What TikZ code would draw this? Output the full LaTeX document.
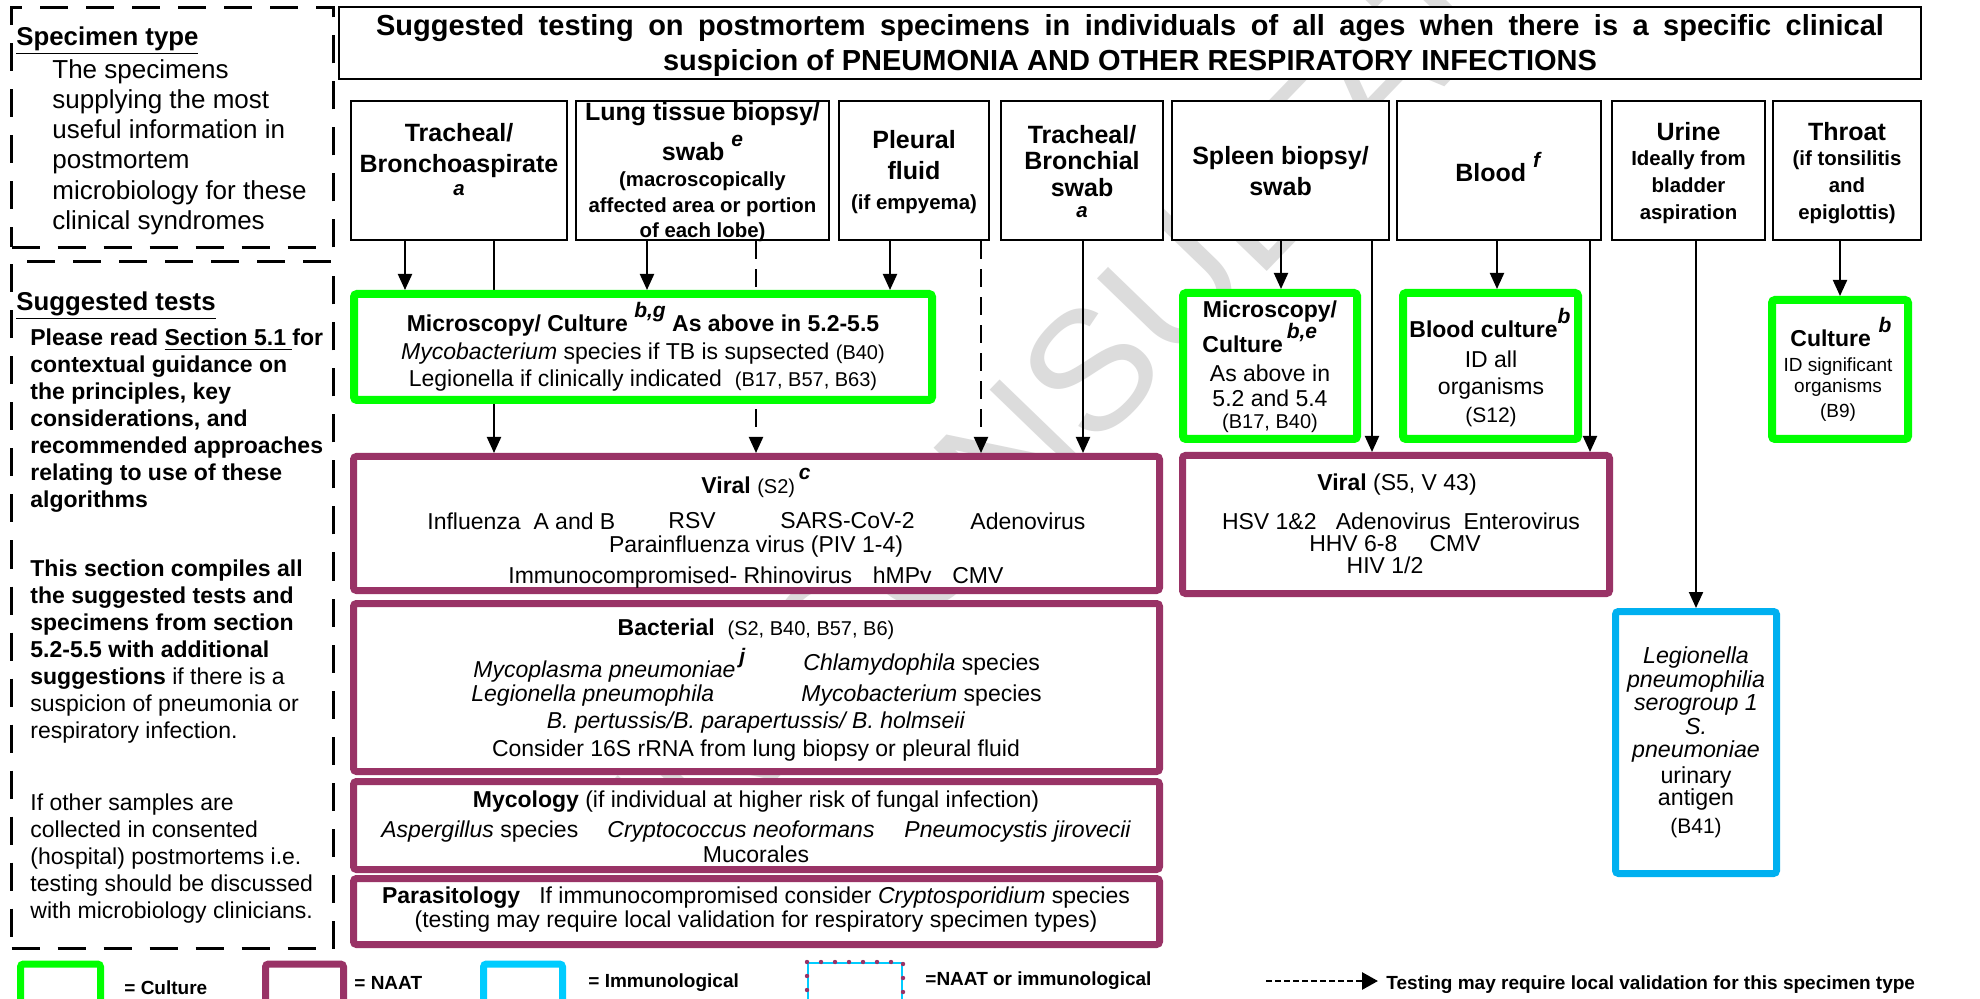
\documentclass[tikz,border=0pt]{standalone}
\usepackage{fontspec}
\setmainfont{Liberation Sans}
\usetikzlibrary{arrows.meta}

\definecolor{culturegreen}{RGB}{0,255,0}
\definecolor{naatpurple}{RGB}{153,51,102}
\definecolor{immunoblue}{RGB}{0,176,240}
\definecolor{keyblue}{RGB}{0,204,255}
\definecolor{markgray}{RGB}{220,220,220}

\newcommand\TitleFont{\fontsize{14.5}{17.5}\selectfont\bfseries}
\newcommand\SpecFont{\fontsize{12.5}{15.5}\selectfont\bfseries}
\newcommand\SubFont{\fontsize{10.2}{12.7}\selectfont\bfseries}
\newcommand\TestFont{\fontsize{11.5}{13.5}\selectfont}
\newcommand\RefFont{\fontsize{10}{12}\selectfont}
\newcommand\SideFont{\fontsize{13}{15.1}\selectfont}
\newcommand\NoteFont{\fontsize{11.5}{13.5}\selectfont}
\newcommand\HeadFont{\fontsize{12.9}{15}\selectfont\bfseries}
\newcommand\KeyFont{\fontsize{9.5}{11}\selectfont\bfseries}
\newcommand\SupMark[1]{\raisebox{7pt}{\fontsize{10.5}{12}\selectfont\bfseries\itshape #1}}

\tikzset{
  specbox/.style={draw=black, line width=1.3pt, fill=white, inner sep=0pt},
  culturebox/.style={draw=culturegreen, line width=4pt, fill=white, rounded corners=1.5pt, inner sep=0pt},
  naatbox/.style={draw=naatpurple, line width=3.5pt, fill=white, rounded corners=1.5pt, inner sep=0pt},
  immunobox/.style={draw=immunoblue, line width=3.5pt, fill=white, rounded corners=1.5pt, inner sep=0pt},
  sidebox/.style={draw=black, line width=1.5pt, dash pattern=on 14pt off 9pt, inner sep=0pt},
  txt/.style={inner sep=0pt, align=center, yshift=-1.5pt},
  ltxt/.style={inner sep=0pt, align=left, anchor=west, yshift=-1.5pt},
  link/.style={line width=1pt, -{Triangle[length=8pt,width=7pt]}},
  dashlink/.style={link, dash pattern=on 9pt off 5pt},
  watermark/.style={text=markgray, inner sep=0pt, font=\fontsize{85}{90}\selectfont},
}

\begin{document}
\begin{tikzpicture}[x=0.5pt,y=-0.5pt]
\useasboundingbox (0,0) rectangle (1980,999);
\clip (0,0) rectangle (1980,999);
\fill[white] (0,0) rectangle (1980,999);

% faint diagonal watermark behind everything
\node[watermark, rotate=46] (wm) at (1163,295) {IN CONSULTATION};

% ---------- side panels ----------
\node[sidebox, minimum width=161pt, minimum height=120pt] (side1) at (172.5,127.5) {};
\node[ltxt, font=\HeadFont] (side1-h) at (16,38) {\underline{Specimen type}};
\node[ltxt, font=\SideFont] (side1-t) at (52,144) {The specimens\\supplying the most\\useful information in\\postmortem\\microbiology for these\\clinical syndromes};

\node[sidebox, minimum width=161pt, minimum height=343.5pt] (side2) at (172.5,605) {};
\node[ltxt, font=\HeadFont] (side2-h) at (16,303) {\underline{Suggested tests}};
\node[ltxt, font=\NoteFont\bfseries] (side2-a) at (30,418) {Please read \underline{Section 5.1 }for\\contextual guidance on\\the principles, key\\considerations, and\\recommended approaches\\relating to use of these\\algorithms};
\node[ltxt, font=\NoteFont] (side2-b) at (30,649) {\textbf{This section compiles all}\\\textbf{the suggested tests and}\\\textbf{specimens from section}\\\textbf{5.2-5.5 with additional}\\\textbf{suggestions} if there is a\\suspicion of pneumonia or\\respiratory infection.};
\node[ltxt, font=\NoteFont] (side2-c) at (30,855.5) {If other samples are\\collected in consented\\(hospital) postmortems i.e.\\testing should be discussed\\with microbiology clinicians.};

% ---------- title ----------
\node[specbox, minimum width=791pt, minimum height=36pt] (title) at (1130,43) {};
\node[txt, font=\TitleFont] (title-t) at (1130,43) {\makebox[754pt][s]{Suggested testing on postmortem specimens in individuals of all ages when there is a specific clinical}\\suspicion of PNEUMONIA AND OTHER RESPIRATORY INFECTIONS};

% ---------- specimen boxes ----------
\node[specbox, minimum width=108pt, minimum height=69.5pt] (tb) at (459,170.5) {};
\node[specbox, minimum width=126.5pt, minimum height=69.5pt] (lung) at (702.5,170.5) {};
\node[specbox, minimum width=75pt, minimum height=69.5pt] (pleural) at (914,170.5) {};
\node[specbox, minimum width=81pt, minimum height=69.5pt] (tbswab) at (1082,170.5) {};
\node[specbox, minimum width=108.5pt, minimum height=69.5pt] (spleen) at (1280.5,170.5) {};
\node[specbox, minimum width=102pt, minimum height=69.5pt] (blood) at (1499,170.5) {};
\node[specbox, minimum width=76.5pt, minimum height=69.5pt] (urine) at (1688.5,170.5) {};
\node[specbox, minimum width=74pt, minimum height=69.5pt] (throat) at (1847,170.5) {};

\node[txt, font=\SpecFont, text depth=0pt] (tb-t) at (459,145) {Tracheal/\\Bronchoaspirate};
\node[txt, font=\SubFont\itshape] (tb-a) at (459,187) {a};
\node[txt, font=\SpecFont] (lung-t) at (702.5,111) {Lung tissue biopsy/};
\node[txt, font=\SpecFont] (lung-s) at (702.5,145) {swab \SupMark{e}};
\node[txt, font=\SubFont] (lung-n) at (702.5,204) {(macroscopically\\affected area or portion\\of each lobe)};
\node[txt, font=\SpecFont, text depth=0pt] (pleural-t) at (914,152) {Pleural\\fluid};
\node[txt, font=\SubFont] (pleural-n) at (914,201) {(if empyema)};
\node[txt, font=\fontsize{12.5}{13.2}\selectfont\bfseries] (tbswab-t) at (1082,158) {Tracheal/\\Bronchial\\swab};
\node[txt, font=\SubFont\itshape] (tbswab-a) at (1082,209) {a};
\node[txt, font=\SpecFont, text depth=0pt] (spleen-t) at (1280.5,168) {Spleen biopsy/\\swab};
\node[txt, font=\SpecFont, anchor=west] (blood-t) at (1455,164) {Blood \SupMark{f}};
\node[txt, font=\SpecFont] (urine-t) at (1688.5,129) {Urine};
\node[txt, font=\fontsize{10.2}{13.4}\selectfont\bfseries] (urine-n) at (1688.5,184) {Ideally from\\bladder\\aspiration};
\node[txt, font=\SpecFont] (throat-t) at (1847,129) {Throat};
\node[txt, font=\fontsize{10.2}{13.4}\selectfont\bfseries] (throat-n) at (1847,184) {(if tonsilitis\\and\\epiglottis)};

% ---------- NAAT boxes ----------
\node[naatbox, minimum width=403pt, minimum height=67pt] (viral) at (756.5,523.5) {};
\node[naatbox, minimum width=403pt, minimum height=84pt] (bact) at (756.5,687.5) {};
\node[naatbox, minimum width=403pt, minimum height=44pt] (myco) at (756.5,825.5) {};
\node[naatbox, minimum width=403pt, minimum height=33pt] (para) at (756.5,911.5) {};
\node[naatbox, minimum width=213.5pt, minimum height=69pt] (viral2) at (1396,524.5) {};
\node[immunobox, minimum width=80.5pt, minimum height=131pt] (antigen) at (1696,742.5) {};

% connector columns
\coordinate (c1) at (405,0);
\coordinate (c2) at (494,0);
\coordinate (c3) at (647,0);
\coordinate (c4) at (756,0);
\coordinate (c5) at (890,0);
\coordinate (c6) at (981,0);
\coordinate (c7) at (1083,0);
\coordinate (c8) at (1281,0);
\coordinate (c9) at (1372,0);
\coordinate (c10) at (1497,0);
\coordinate (c11) at (1590,0);
\coordinate (c12) at (1696,0);
\coordinate (c13) at (1840,0);

% links running behind the culture box
\draw[link] (tb.south -| c2) -- (viral.north -| c2);
\draw[dashlink] (lung.south -| c4) -- (viral.north -| c4);

% ---------- culture boxes ----------
\node[culturebox, minimum width=289pt, minimum height=53pt] (micro) at (643,347) {};
\node[culturebox, minimum width=87pt, minimum height=73pt] (micro2) at (1270,366) {};
\node[culturebox, minimum width=87.5pt, minimum height=73pt] (bcult) at (1490.5,366) {};
\node[culturebox, minimum width=68pt, minimum height=69.5pt] (tcult) at (1840,369.5) {};

% ---------- links ----------
\draw[link] (tb.south -| c1) -- (micro.north -| c1);
\draw[link] (lung.south -| c3) -- (micro.north -| c3);
\draw[link] (pleural.south -| c5) -- (micro.north -| c5);
\draw[dashlink] (pleural.south -| c6) -- (viral.north -| c6);
\draw[link] (tbswab.south -| c7) -- (viral.north -| c7);
\draw[link] (spleen.south -| c8) -- (micro2.north -| c8);
\draw[link] (spleen.south -| c9) -- (viral2.north -| c9);
\draw[link] (blood.south -| c10) -- (bcult.north -| c10);
\draw[link] (blood.south -| c11) -- (viral2.north -| c11);
\draw[link] (urine.south -| c12) -- (antigen.north -| c12);
\draw[link] (throat.south -| c13) -- (tcult.north -| c13);

% ---------- culture box texts ----------
\node[txt, font=\TestFont] (micro-t) at (643,344) {\textbf{Microscopy/ Culture} \SupMark{b,g}\ \textbf{As above in 5.2-5.5}\\[0.3pt]\textit{Mycobacterium} species if TB is supsected {\RefFont(B40)}\\[0.3pt]Legionella if clinically indicated\ \ {\RefFont(B17, B57, B63)}};

\node[txt, font=\TestFont\bfseries] (micro2-a) at (1270,309) {Microscopy/};
\node[txt, font=\TestFont, anchor=west] (micro2-b) at (1202,335) {\textbf{Culture}\,\SupMark{b,e}};
\node[txt, font=\fontsize{11.5}{12.5}\selectfont] (micro2-c) at (1270,383) {As above in\\5.2 and 5.4};
\node[txt, font=\RefFont] (micro2-d) at (1270,420) {(B17, B40)};

\node[txt, font=\TestFont, anchor=west] (bcult-a) at (1409,320) {\textbf{Blood culture}\SupMark{b}};
\node[txt, font=\TestFont] (bcult-b) at (1491,372.5) {ID all\\organisms};
\node[txt, font=\fontsize{10.5}{12}\selectfont] (bcult-c) at (1491,414) {(S12)};

\node[txt, font=\TestFont, anchor=west] (tcult-a) at (1790,329) {\textbf{Culture}\,\,\SupMark{b}};
\node[txt, font=\fontsize{9.5}{10.5}\selectfont] (tcult-b) at (1838,374.5) {ID significant\\organisms};
\node[txt, font=\fontsize{9.5}{10.5}\selectfont] (tcult-c) at (1838,410) {(B9)};

% ---------- NAAT box texts ----------
\node[txt, font=\TestFont] (viral-h) at (756,480) {\textbf{Viral} {\RefFont(S2)}\,\SupMark{c}};
\node[ltxt, font=\TestFont] (viral-a) at (427,518) {Influenza\ \ A and B};
\node[ltxt, font=\TestFont] (viral-b) at (668,518) {RSV};
\node[ltxt, font=\TestFont] (viral-c) at (780,518) {SARS-CoV-2};
\node[ltxt, font=\TestFont] (viral-d) at (970,518) {Adenovirus};
\node[txt, font=\TestFont] (viral-e) at (756,544) {Parainfluenza virus (PIV 1-4)};
\node[txt, font=\TestFont] (viral-f) at (756,575) {Immunocompromised- Rhinovirus\hspace{0.9em}hMPv\hspace{0.9em}CMV};

\node[txt, font=\TestFont] (bact-h) at (756,626) {\textbf{Bacterial}\ \ {\RefFont(S2, B40, B57, B6)}};
\node[ltxt, font=\TestFont] (bact-a) at (473,662) {\textit{Mycoplasma pneumoniae}\,\SupMark{j}};
\node[ltxt, font=\TestFont] (bact-b) at (803,662) {\textit{Chlamydophila} species};
\node[ltxt, font=\TestFont] (bact-c) at (471,693) {\textit{Legionella pneumophila}};
\node[ltxt, font=\TestFont] (bact-d) at (801,693) {\textit{Mycobacterium} species};
\node[txt, font=\TestFont] (bact-e) at (756,720) {\textit{B. pertussis/B. parapertussis/ B. holmseii}};
\node[txt, font=\TestFont] (bact-f) at (756,748) {Consider 16S rRNA from lung biopsy or pleural fluid};

\node[txt, font=\TestFont] (myco-h) at (756,799) {\textbf{Mycology} (if individual at higher risk of fungal infection)};
\node[ltxt, font=\TestFont] (myco-a) at (381,829) {\textit{Aspergillus} species};
\node[ltxt, font=\TestFont] (myco-b) at (607,829) {\textit{Cryptococcus neoformans}};
\node[ltxt, font=\TestFont] (myco-c) at (904,829) {\textit{Pneumocystis jirovecii}};
\node[txt, font=\TestFont] (myco-d) at (756,851) {Mucorales};

\node[txt, font=\TestFont] (para-h) at (756,895) {\textbf{Parasitology}\ \ \ If immunocompromised consider \textit{Cryptosporidium} species};
\node[txt, font=\TestFont] (para-a) at (756,919) {(testing may require local validation for respiratory specimen types)};

\node[txt, font=\TestFont] (viral2-h) at (1397,482) {\textbf{Viral} (S5, V 43)};
\node[txt, font=\TestFont] (viral2-a) at (1401,518) {HSV 1\&2\ \ \ Adenovirus\ \ Enterovirus};
\node[txt, font=\TestFont] (viral2-b) at (1395,541) {HHV 6-8\hspace{1.4em}CMV};
\node[txt, font=\TestFont] (viral2-c) at (1385,562) {HIV 1/2};

% ---------- antigen box text ----------
\node[txt, font=\fontsize{11.6}{10}\selectfont\itshape] (antigen-a) at (1696,678) {Legionella\\pneumophilia\\serogroup 1};
\node[txt, font=\fontsize{11.6}{11.5}\selectfont\itshape] (antigen-b) at (1696,737) {S.\\pneumoniae};
\node[txt, font=\fontsize{11.6}{11}\selectfont] (antigen-c) at (1696,785) {urinary\\antigen};
\node[txt, font=\fontsize{10.5}{12}\selectfont] (antigen-d) at (1696,825) {(B41)};

% ---------- key ----------
\node[culturebox, line width=3.5pt, minimum width=40pt, minimum height=33pt] (key1) at (60.5,997) {};
\node[ltxt, font=\KeyFont] (key1-t) at (124,985) {= Culture};
\node[naatbox, minimum width=39pt, minimum height=33pt] (key2) at (304.5,997) {};
\node[ltxt, font=\KeyFont] (key2-t) at (354,980) {= NAAT};
\node[draw=keyblue, line width=3.5pt, fill=white, rounded corners=1.5pt, minimum width=39.5pt, minimum height=33pt] (key3) at (523,997) {};
\node[ltxt, font=\KeyFont] (key3-t) at (588,980) {= Immunological};
\node[draw=keyblue, line width=1pt, fill=white, minimum width=47pt, minimum height=34pt] (key4) at (855,997) {};
\draw[naatpurple, line width=2.2pt, line cap=round, dash pattern=on 0pt off 7pt] (key4.south west) rectangle (key4.north east);
\node[ltxt, font=\KeyFont] (key4-t) at (925,978) {=NAAT or immunological};
\coordinate (keyA) at (1266,981);
\coordinate (keyB) at (1378,981);
\draw[line width=1.4pt, dash pattern=on 3pt off 1.5pt, -{Triangle[length=8pt,width=8.5pt]}] (keyA) -- (keyB);
\node[ltxt, font=\KeyFont] (key5-t) at (1386,982) {Testing may require local validation for this specimen type};
\end{tikzpicture}
\end{document}
